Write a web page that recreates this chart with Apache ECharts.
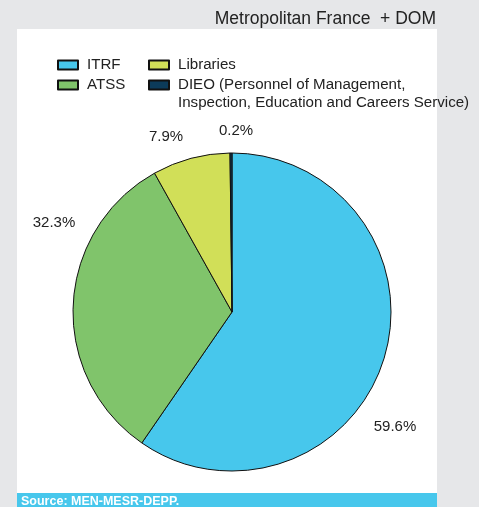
<!DOCTYPE html>
<html><head><meta charset="utf-8">
<script src="https://cdn.jsdelivr.net/npm/echarts@6/dist/echarts.min.js"></script>
<style>html,body{margin:0;padding:0;background:#e6e7e9;}#c{width:479px;height:507px;}</style>
</head><body><div id="c"></div>
<script>
var categories = ['ITRF', 'ATSS', 'Libraries', 'DIEO (Personnel of Management,\nInspection, Education and Careers Service)'];
var values = [59.6, 32.3, 7.9, 0.2];
var colors = ['#47c7ec', '#80c46b', '#d1df58', '#0c3b5a'];

var pieCenter = [232, 312];
// label placement (offset from pie centre, px) - styling only
var labelOffsets = [[163, 115], [-178, -89], [-66, -175], [4, -181]];

var chart = echarts.init(document.getElementById('c'));
var font = '"Liberation Sans", Arial, sans-serif';
var legendText = {fontFamily: font, fontSize: 15.1, color: '#222', padding: [0, 0, 0, 4]};
chart.setOption({
  backgroundColor: '#e6e7e9',
  animation: false,
  title: {
    text: 'Metropolitan France  + DOM',
    right: 38, top: 5,
    textStyle: {fontFamily: font, fontSize: 17.5, fontWeight: 'normal', color: '#222'}
  },
  graphic: [
    {type: 'rect', z: -1, shape: {x: 17, y: 29, width: 420, height: 464}, style: {fill: '#ffffff'}},
    {type: 'rect', z: -1, shape: {x: 17, y: 493, width: 420, height: 14}, style: {fill: '#47c7ec'}},
    {type: 'text', left: 21, top: 495, style: {text: 'Source: MEN-MESR-DEPP.', fill: '#fff', font: 'bold 12.5px "Liberation Sans", Arial, sans-serif'}}
  ],
  legend: [
    {
      data: [categories[0], categories[1]], orient: 'vertical', left: 52, top: 50,
      icon: 'rect', itemWidth: 20, itemHeight: 9, itemGap: 0,
      textStyle: Object.assign({lineHeight: 20}, legendText)
    },
    {
      data: [categories[2]], orient: 'vertical', left: 143, top: 50,
      icon: 'rect', itemWidth: 20, itemHeight: 9,
      textStyle: Object.assign({lineHeight: 20}, legendText)
    },
    {
      data: [categories[3]], orient: 'vertical', left: 143, top: 53,
      icon: 'rect', itemWidth: 20, itemHeight: 9,
      formatter: function (n) { return '\n' + n; },
      textStyle: Object.assign({lineHeight: 18}, legendText)
    }
  ],
  series: [{
    type: 'pie',
    center: pieCenter,
    radius: 159,
    startAngle: 90,
    clockwise: true,
    data: categories.map(function (c, i) {
      return {name: c, value: values[i], itemStyle: {color: colors[i]}};
    }),
    itemStyle: {borderColor: '#111', borderWidth: 1},
    label: {
      position: 'outside',
      formatter: function (p) { return p.value.toFixed(1) + '%'; },
      fontFamily: font, fontSize: 15, color: '#222'
    },
    labelLine: {show: false, length: 10, length2: 0},
    labelLayout: function (p) {
      var o = labelOffsets[p.dataIndex];
      return {x: pieCenter[0] + o[0], y: pieCenter[1] + o[1], align: 'center', verticalAlign: 'middle'};
    }
  }]
});
</script></body></html>
